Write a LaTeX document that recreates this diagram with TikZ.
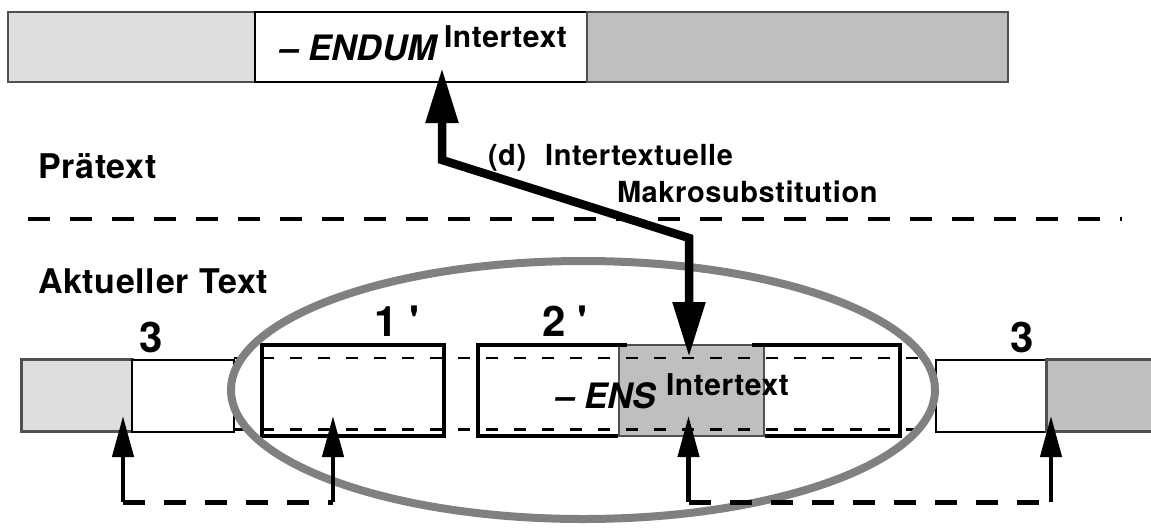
\documentclass[tikz,border=0pt]{standalone}
\usepackage{fontspec}
\usetikzlibrary{arrows.meta,shapes.geometric}
\newfontfamily\hv{TeX Gyre Heros}[Ligatures=TeXOff]
\newcommand\fsz[1]{\fontsize{#1}{#1}\selectfont}
\definecolor{lightfill}{HTML}{DEDEDE}
\definecolor{midfill}{HTML}{BFBFBF}
\definecolor{edgegray}{HTML}{505050}
\definecolor{ringgray}{HTML}{808080}
\begin{document}
\begin{tikzpicture}[x=1pt,y=-1pt,
  cell/.style={inner sep=0pt, outer sep=0pt, anchor=north west},
  txt/.style={inner sep=0pt, outer sep=0pt, anchor=base west, font=\hv\bfseries\fsz{34}\addfontfeatures{LetterSpace=2}},
  itxt/.style={txt, font=\hv\bfseries\itshape\fsz{35}},
  suptxt/.style={txt, font=\hv\bfseries\fsz{29}\addfontfeatures{LetterSpace=2}},
  numtxt/.style={inner sep=0pt, outer sep=0pt, anchor=base, font=\hv\bfseries\fsz{42}},
  fine dash/.style={line width=2.2pt, dash pattern=on 12pt off 16pt},
  sep dash/.style={line width=4pt, dash pattern=on 22pt off 20pt},
  link dash/.style={line width=5pt, dash pattern=on 22pt off 19pt},
  small arrow/.style={line width=4.3pt, -{Triangle[length=41pt, width=21pt]}},
  big arrow/.style={line width=8.5pt, line join=miter,
    {Triangle[length=55pt, width=31pt]}-{Triangle[length=55pt, width=31pt]}},
]
\useasboundingbox (0,0) rectangle (1151,528);

% ---- Praetext: upper row of segments
\node[cell, fill=lightfill, draw=edgegray, line width=2pt, minimum width=247pt, minimum height=70pt] (pL) at (8,12) {};
\node[cell, fill=white, draw=black, line width=2.5pt, minimum width=332pt, minimum height=70pt] (pM) at (255,12) {};
\node[cell, fill=midfill, draw=edgegray, line width=2.5pt, minimum width=421pt, minimum height=70pt] (pR) at (587,12) {};
\node[itxt] (endum) at (279,60) {– ENDUM};
\node[suptxt, font=\hv\bfseries\fsz{30}\addfontfeatures{LetterSpace=2}] (endumsup) at (444,47) {Intertext};

% ---- separator between the two text levels
\node[txt] (praetext) at (38,178) {Prätext};
\node[txt] (aktuell) at (38,293) {Aktueller Text};
\coordinate (sepL) at (28,219);
\coordinate (sepR) at (1122,219);
\draw[sep dash] (sepL) -- (sepR);

% ---- current text: lower row of segments
\node[cell, fill=lightfill, draw=edgegray, line width=3pt, minimum width=110.5pt, minimum height=72pt] (qL) at (21.5,359.5) {};
\node[cell, fill=white, draw=black, line width=2pt, minimum width=102pt, minimum height=72pt] (qW) at (132,359.5) {};
\node[cell, fill=white, draw=black, line width=4pt, minimum width=182pt, minimum height=90.5pt] (b1) at (262,345) {};
\node[cell, fill=white, minimum width=422pt, minimum height=90.5pt] (b2) at (478,345) {};
\node[cell, fill=midfill, draw=edgegray, line width=2pt, minimum width=145pt, minimum height=91pt] (g2) at (619,345) {};
\draw[line width=4pt, line join=miter] (627,345) -- (b2.north west) -- (b2.south west) -- (618,435.5);
\draw[line width=4pt, line join=miter] (765,435.5) -- (b2.south east) -- (b2.north east) -- (752,345);
\node[cell, fill=white, draw=black, line width=2pt, minimum width=110pt, minimum height=72pt] (rW) at (936,359.5) {};
\node[cell, fill=midfill, draw=edgegray, line width=3pt, minimum width=130pt, minimum height=72pt] (rG) at (1046,359.5) {};

% thin guide lines through the middle segments
\draw[fine dash] (234,358) -- (918,358);
\draw[fine dash] (234,429.5) -- (918,429.5);

% segment labels
\node[numtxt] (n3L) at (151.5,352) {3};
\node[numtxt] (n3R) at (1022.5,352) {3};
\node[numtxt] (n1) at (397,336) {1 '};
\node[numtxt] (n2) at (565,336) {2 '};
\node[itxt, font=\hv\bfseries\itshape\fsz{35}] (ens) at (555,408) {– ENS};
\node[suptxt, font=\hv\bfseries\fsz{30}\addfontfeatures{LetterSpace=2}] (enssup) at (666,395) {Intertext};

% enclosing ellipse
\node[ellipse, draw=ringgray, line width=8pt, minimum width=704pt, minimum height=258pt, inner sep=0pt] (ring) at (583,390) {};

% ---- substitution arrow
\coordinate (dTop) at (442,68);
\coordinate (dBendA) at (442,160);
\coordinate (dBendB) at (689,238);
\coordinate (dBot) at (689,357);
\draw[big arrow] (dTop) -- (dBendA) -- (dBendB) -- (dBot);
\node[txt, font=\hv\bfseries\fsz{29}\addfontfeatures{LetterSpace=2}] (dlab) at (488,165) {(d)\hspace{19pt}Intertextuelle};
\node[txt, font=\hv\bfseries\fsz{29}\addfontfeatures{LetterSpace=2}] (dlab2) at (617,202) {Makrosubstitution};

% ---- correspondence links below
\coordinate (lA) at (123,416);
\coordinate (lAc) at (123,502);
\coordinate (lB) at (333,416);
\coordinate (lBc) at (333,502);
\draw[small arrow] (lAc) -- (lA);
\draw[small arrow] (lBc) -- (lB);
\draw[link dash] (lAc) -- (lBc);

\coordinate (rA) at (688.5,416);
\coordinate (rAc) at (688.5,502);
\coordinate (rB) at (1051,416);
\coordinate (rBc) at (1051,502);
\draw[small arrow] (rAc) -- (rA);
\draw[small arrow] (rBc) -- (rB);
\draw[link dash] (rAc) -- (rBc);
\end{tikzpicture}
\end{document}
